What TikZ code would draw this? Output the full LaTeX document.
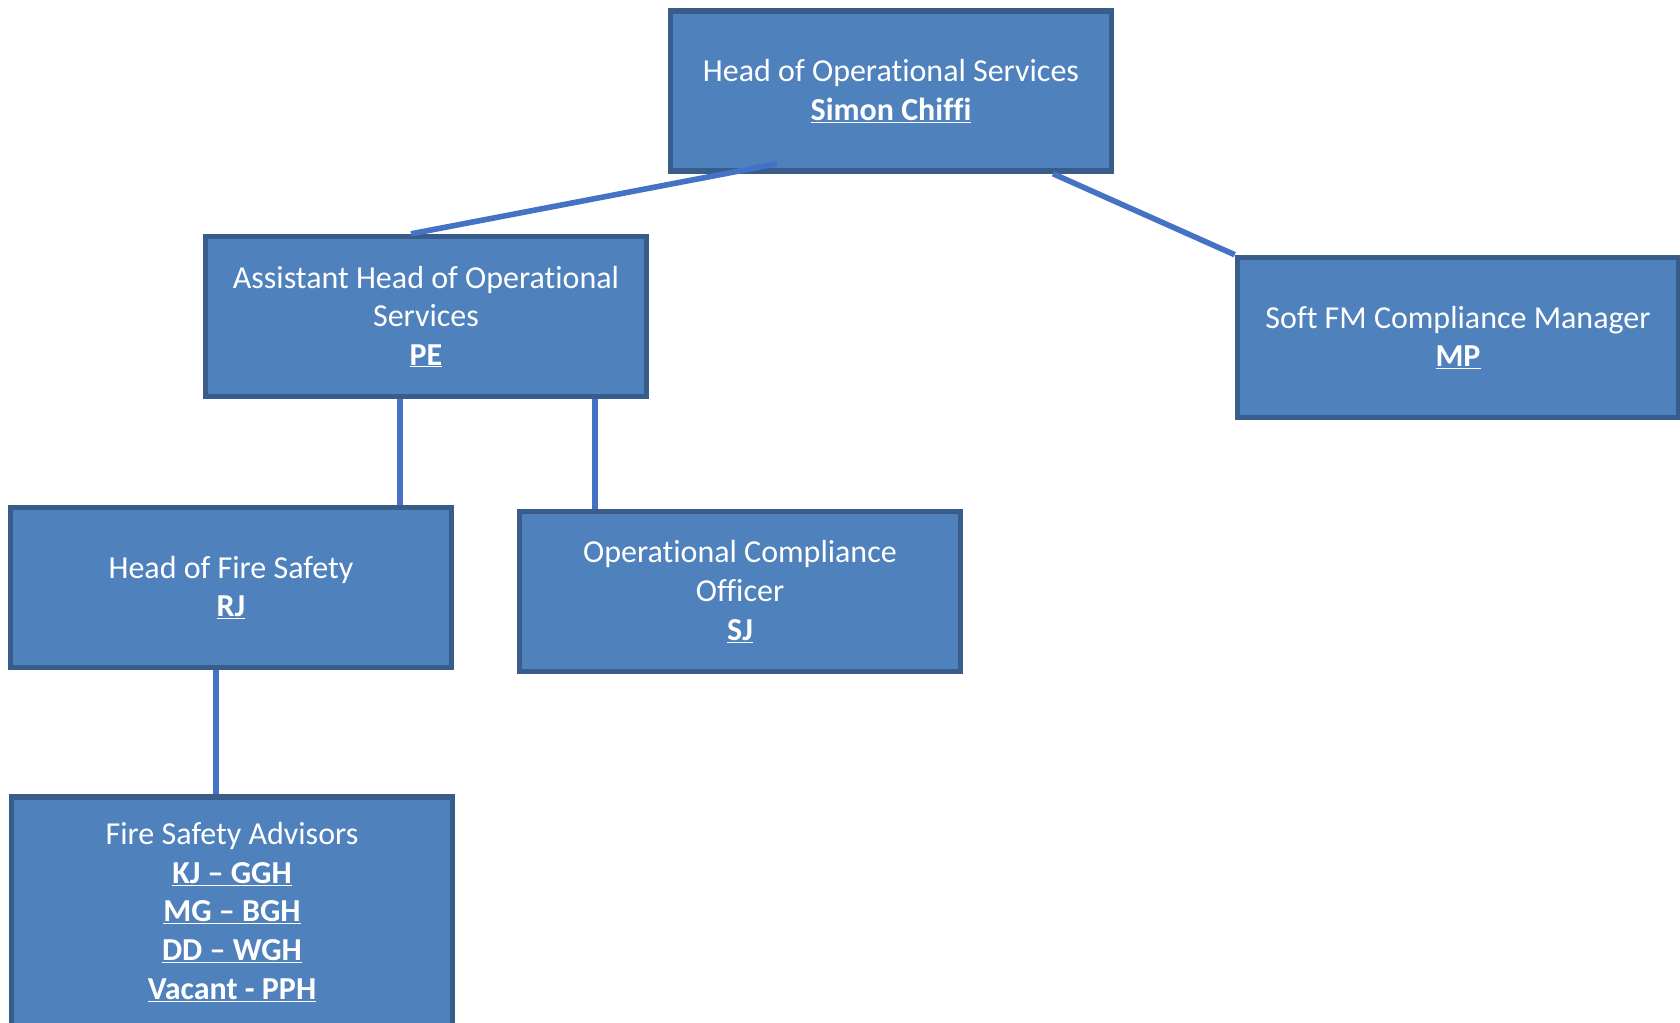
\documentclass[tikz,border=0pt]{standalone}
\usepackage{fontspec}
\setmainfont{Carlito}[Ligatures=NoCommon]
\usepackage{tikz}
\definecolor{boxfill}{HTML}{4F81BD}
\definecolor{boxline}{HTML}{385D8A}
\definecolor{linkblue}{HTML}{4472C4}
\newcommand{\who}[1]{\underline{\textbf{#1}}}
\tikzset{
  post/.style={rectangle,fill=boxfill,draw=boxline,line width=5.5pt,text=white,
    align=center,inner sep=0pt,minimum width=441pt,minimum height=160pt,
    font=\fontsize{32}{38.6}\selectfont},
  link/.style={draw=linkblue,line width=5.6pt}
}

\begin{document}
\begin{tikzpicture}[x=1pt,y=1pt]
\useasboundingbox (0,0) rectangle (1680,1022);
\node[post] (head) at (891,931) {Head of Operational Services\\\who{Simon Chiffi}};
\node[post] (asst) at (426,705.4) {Assistant Head of Operational\\Services\\\who{PE}};
\node[post] (soft) at (1458,684.5) {Soft FM Compliance Manager\\\who{MP}};
\node[post] (fire) at (231,434.4) {Head of Fire Safety\\\who{RJ}};
\node[post] (occ) at (740,430.5) {Operational Compliance\\Officer\\\who{SJ}};
\node[post,minimum height=230pt] (adv) at (232,110) {Fire Safety Advisors\\\who{KJ – GGH}\\\who{MG – BGH}\\\who{DD – WGH}\\\who{Vacant - PPH}};

\path[link] ([xshift=-114pt,yshift=10pt]head.south) -- ([xshift=-15pt]asst.north);
\path[link] ([xshift=162pt]head.south) -- (soft.north west);
\path[link] ([xshift=-26pt]asst.south) coordinate (a1) -- (a1 |- fire.north);
\path[link] ([xshift=169pt]asst.south) coordinate (a2) -- (a2 |- occ.north);
\path[link] ([xshift=-15pt]fire.south) -- ([xshift=-16pt]adv.north);
\end{tikzpicture}
\end{document}
